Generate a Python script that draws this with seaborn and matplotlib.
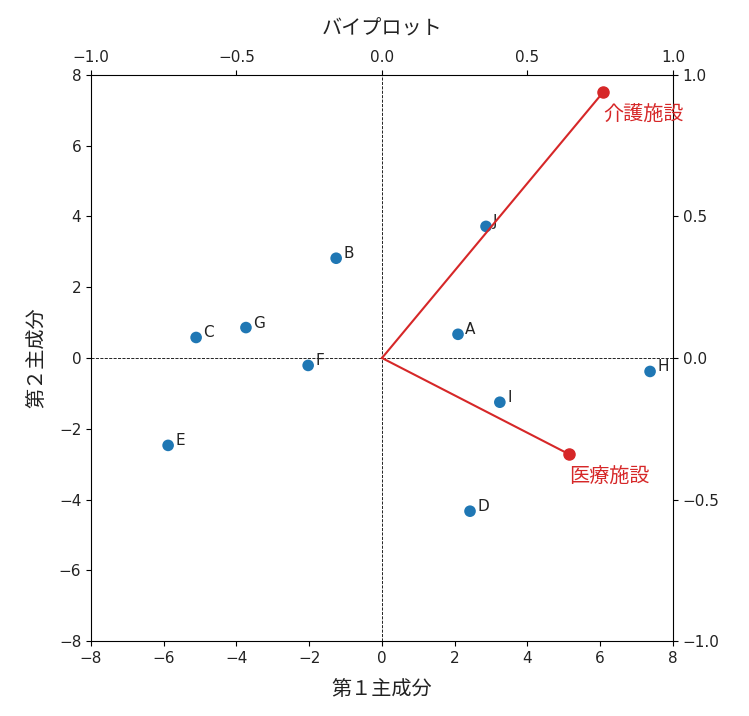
import seaborn as sns
import matplotlib.pyplot as plt
import pandas as pd

# principal component scores
names = ['A', 'B', 'C', 'D', 'E', 'F', 'G', 'H', 'I', 'J']
pc1 = [2.09, -1.26, -5.11, 2.42, -5.88, -2.03, -3.74, 7.37, 3.24, 2.86]
pc2 = [0.67, 2.82, 0.58, -4.33, -2.47, -0.21, 0.86, -0.38, -1.25, 3.72]

# loadings
var_names = ['医療施設', '介護施設']
load1 = [0.643, 0.760]
load2 = [-0.340, 0.939]

plt.rcParams['font.family'] = ['DejaVu Sans', 'Noto Sans CJK JP']
fontsize = 11
jfont = 14.5
textcol = '#222222'

df = pd.DataFrame({'name': names, 'pc1': pc1, 'pc2': pc2})

fig = plt.figure(figsize=(7.49, 7.16), dpi=100)
ax = fig.add_axes([0.1215, 0.1047, 0.777, 0.7906])
sns.scatterplot(data=df, x='pc1', y='pc2', ax=ax, s=70, color='tab:blue',
                edgecolor='none', zorder=3)
for i in range(len(names)):
    ax.text(pc1[i] + 0.2, pc2[i], names[i], fontsize=fontsize, color=textcol)
ax.axhline(0, color='black', linestyle='--', linewidth=0.6)
ax.axvline(0, color='black', linestyle='--', linewidth=0.6)
ax.set_xlim(-8, 8)
ax.set_ylim(-8, 8)
ax.set_xlabel('第１主成分', fontsize=jfont, color=textcol, labelpad=10)
ax.set_ylabel('第２主成分', fontsize=jfont, color=textcol, labelpad=9)
ax.tick_params(labelsize=fontsize, labelcolor=textcol)

# second axes for loadings
ax2 = fig.add_axes(ax.get_position(), frameon=False)
ax2.xaxis.tick_top()
ax2.yaxis.tick_right()
ax2.set_xlim(-1, 1)
ax2.set_ylim(-1, 1)
ax2.set_xticks([-1, -0.5, 0, 0.5, 1])
ax2.set_yticks([-1, -0.5, 0, 0.5, 1])
ax2.tick_params(labelsize=fontsize, labelcolor=textcol)
for i in range(len(var_names)):
    ax2.plot([0, load1[i]], [0, load2[i]], color='tab:red', linewidth=1.5)
    ax2.plot(load1[i], load2[i], 'o', color='tab:red', markersize=8)
    ax2.annotate(var_names[i], (load1[i], load2[i]), xytext=(0, -10),
                 textcoords='offset points', ha='left', va='top',
                 color='tab:red', fontsize=jfont, annotation_clip=False)
ax2.set_title('バイプロット', fontsize=jfont, pad=11, color=textcol)

plt.savefig('out.png', dpi=100)
plt.close()
